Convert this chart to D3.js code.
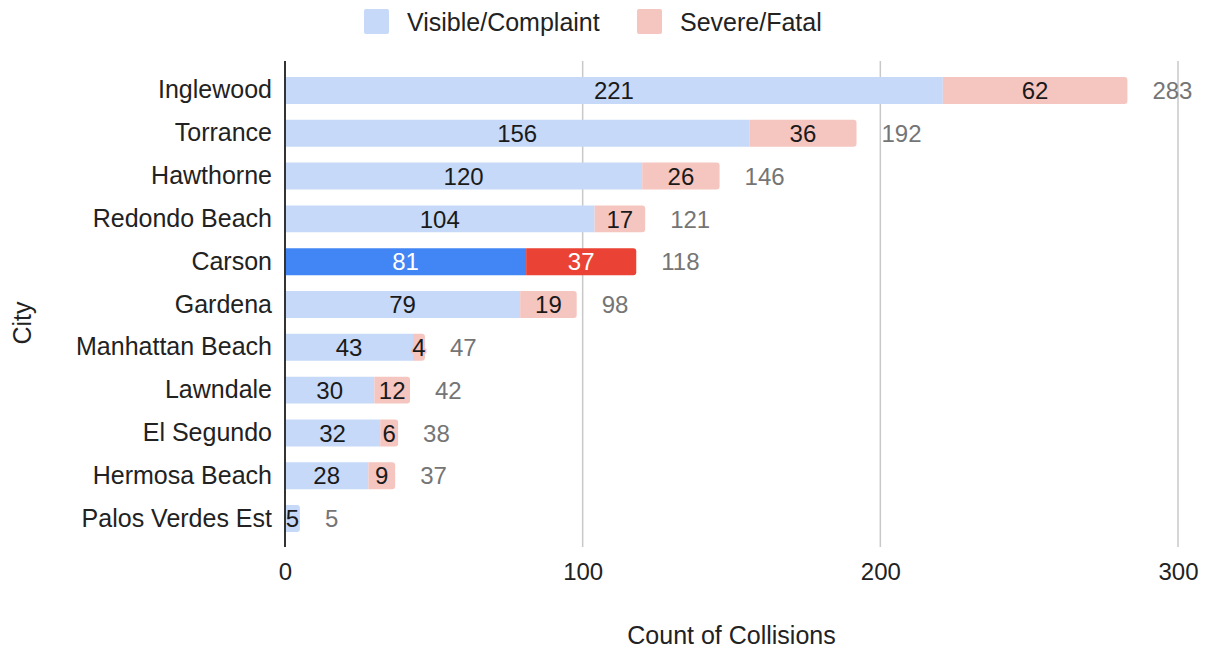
<!DOCTYPE html>
<html>
<head>
<meta charset="utf-8">
<script src="https://cdn.jsdelivr.net/npm/d3@7"></script>
<style>
  body { margin: 0; background: #fff; }
  svg { display: block; font-family: Arial, "Liberation Sans", sans-serif; }
</style>
</head>
<body>
<div id="chart"></div>
<script>
// Chart data
const cities = ['Inglewood', 'Torrance', 'Hawthorne', 'Redondo Beach', 'Carson', 'Gardena',
    'Manhattan Beach', 'Lawndale', 'El Segundo', 'Hermosa Beach', 'Palos Verdes Est'];
const visible = [221, 156, 120, 104, 81, 79, 43, 30, 32, 28, 5];
const severe = [62, 36, 26, 17, 37, 19, 4, 12, 6, 9, 0];
const xTicks = [0, 100, 200, 300];
const highlight = 'Carson';

const width = 1211;
const height = 648;
const margin = {top: 69, right: 33, bottom: 108, left: 285};

const colors = {
    visible: '#c6d9f8', severe: '#f5c5c0',
    visibleHi: '#4285f4', severeHi: '#ea4335'
};

const rows = cities.map((c, i) => ({
    city: c, visible: visible[i], severe: severe[i], total: visible[i] + severe[i]
}));

const svg = d3.select('#chart')
    .append('svg')
    .attr('width', width)
    .attr('height', height);

const x = d3.scaleLinear()
    .domain([0, 300])
    .range([margin.left, width - margin.right]);

const y = d3.scaleBand()
    .domain(cities)
    .range([margin.top, height - margin.bottom])
    .paddingInner(0.37)
    .paddingOuter(0.185);

const gridTop = 61;
const gridBottom = 547;

// Gridlines
svg.append('g')
    .selectAll('line')
    .data(xTicks.filter(t => t > 0))
    .enter().append('line')
    .attr('x1', d => x(d)).attr('x2', d => x(d))
    .attr('y1', gridTop).attr('y2', gridBottom)
    .attr('stroke', '#c8c8c8')
    .attr('stroke-width', 1.5);

// Rounded-right bar path
function barPath(x0, x1, y0, h, rightRound) {
    const r = rightRound ? Math.min(3, (x1 - x0) / 2) : 0;
    return `M${x0},${y0} H${x1 - r} Q${x1},${y0} ${x1},${y0 + r} V${y0 + h - r} Q${x1},${y0 + h} ${x1 - r},${y0 + h} H${x0} Z`;
}

const bh = y.bandwidth();

const rowG = svg.append('g')
    .selectAll('g')
    .data(rows)
    .enter().append('g');

// Visible segments
rowG.append('path')
    .attr('d', d => barPath(x(0), x(d.visible), y(d.city), bh, d.severe === 0))
    .attr('fill', d => d.city === highlight ? colors.visibleHi : colors.visible);

// Severe segments
rowG.filter(d => d.severe > 0)
    .append('path')
    .attr('d', d => barPath(x(d.visible), x(d.total), y(d.city), bh, true))
    .attr('fill', d => d.city === highlight ? colors.severeHi : colors.severe);

// Segment labels
function segLabel(sel, getStart, getVal, fillKey) {
    sel.append('text')
        .attr('x', d => (x(getStart(d)) + x(getStart(d) + getVal(d))) / 2)
        .attr('y', d => y(d.city) + bh / 2)
        .attr('dy', '0.36em')
        .attr('text-anchor', 'middle')
        .style('font-size', '24px')
        .style('paint-order', 'stroke')
        .attr('stroke', d => d.city === highlight ? colors[fillKey + 'Hi'] : colors[fillKey])
        .attr('stroke-width', 3)
        .attr('fill', d => d.city === highlight ? '#ffffff' : '#1a1a1a')
        .text(d => getVal(d));
}
segLabel(rowG, d => 0, d => d.visible, 'visible');
segLabel(rowG.filter(d => d.severe > 0), d => d.visible, d => d.severe, 'severe');

// Totals
rowG.append('text')
    .attr('x', d => x(d.total) + 25)
    .attr('y', d => y(d.city) + bh / 2)
    .attr('dy', '0.36em')
    .style('font-size', '24px')
    .attr('fill', '#757575')
    .text(d => d.total);

// Zero axis line
svg.append('line')
    .attr('x1', x(0)).attr('x2', x(0))
    .attr('y1', gridTop).attr('y2', gridBottom)
    .attr('stroke', '#333')
    .attr('stroke-width', 2);

// Y axis labels
const yAxis = svg.append('g')
    .attr('transform', `translate(${x(0)},0)`)
    .call(d3.axisLeft(y).tickSize(0).tickPadding(13));
yAxis.select('.domain').remove();
yAxis.selectAll('text')
    .style('font-size', '25px')
    .style('font-family', 'Arial, "Liberation Sans", sans-serif')
    .attr('fill', '#222');

// X axis labels
const xAxis = svg.append('g')
    .attr('transform', `translate(0,${gridBottom})`)
    .call(d3.axisBottom(x).tickValues(xTicks).tickSize(0).tickPadding(16));
xAxis.select('.domain').remove();
xAxis.selectAll('text')
    .style('font-size', '24px')
    .style('font-family', 'Arial, "Liberation Sans", sans-serif')
    .attr('fill', '#222');

// Axis titles
svg.append('text')
    .attr('x', (x(0) + x(300)) / 2)
    .attr('y', 635)
    .attr('dy', '0.36em')
    .attr('text-anchor', 'middle')
    .style('font-size', '25px')
    .attr('fill', '#222')
    .text('Count of Collisions');

svg.append('text')
    .attr('transform', 'translate(22,323) rotate(-90)')
    .attr('dy', '0.36em')
    .attr('text-anchor', 'middle')
    .style('font-size', '25px')
    .attr('fill', '#222')
    .text('City');

// Legend
const legend = [
    {label: 'Visible/Complaint', color: colors.visible, x: 364},
    {label: 'Severe/Fatal', color: colors.severe, x: 637}
];
const lg = svg.append('g')
    .selectAll('g')
    .data(legend)
    .enter().append('g')
    .attr('transform', d => `translate(${d.x},9)`);
lg.append('rect')
    .attr('width', 25).attr('height', 25)
    .attr('rx', 2)
    .attr('fill', d => d.color);
lg.append('text')
    .attr('x', 43)
    .attr('y', 12.5)
    .attr('dy', '0.36em')
    .style('font-size', '25px')
    .attr('fill', '#222')
    .text(d => d.label);
</script>
</body>
</html>
